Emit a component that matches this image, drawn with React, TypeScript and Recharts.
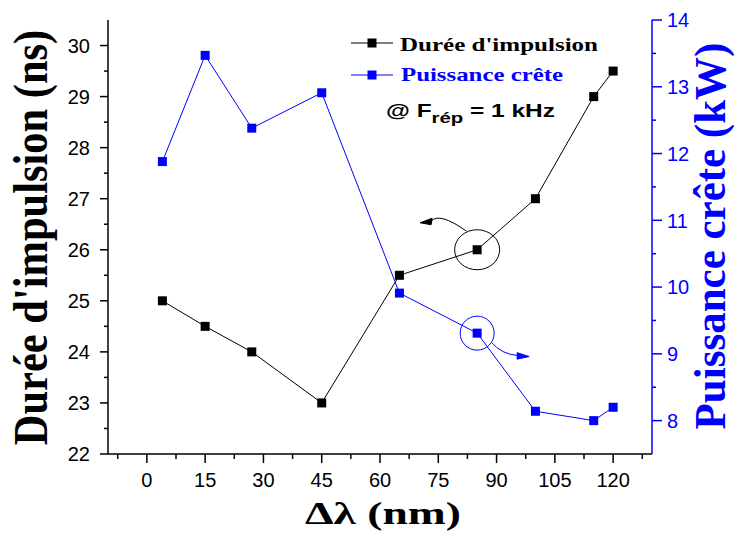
import React from 'react';
import { LineChart, Line, XAxis, YAxis, Legend, ReferenceDot } from 'recharts';

// Δλ (nm)
const deltaLambda = [4, 15, 27, 45, 65, 85, 100, 115, 120];
// Durée d'impulsion (ns)
const pulseDuration = [25, 24.5, 24, 23, 25.5, 26, 27, 29, 29.5];
// Puissance crête (kW)
const peakPower = [11.88, 13.47, 12.38, 12.91, 9.91, 9.31, 8.14, 8.0, 8.2];

const xMajor = [0, 15, 30, 45, 60, 75, 90, 105, 120];
const xMinor = [-7.5, 7.5, 22.5, 37.5, 52.5, 67.5, 82.5, 97.5, 112.5, 127.5];
const leftMajor = [22, 23, 24, 25, 26, 27, 28, 29, 30];
const leftMinor = [22.5, 23.5, 24.5, 25.5, 26.5, 27.5, 28.5, 29.5];
const rightMajor = [8, 9, 10, 11, 12, 13, 14];
const rightMinor = [8.5, 9.5, 10.5, 11.5, 12.5, 13.5];

const data = deltaLambda.map((x, i) => ({
  x,
  duree: pulseDuration[i],
  puissance: peakPower[i],
}));

const BLUE = '#0000ff';
const SANS = '"Liberation Sans", Arial, sans-serif';
const SERIF = '"Liberation Serif", "Times New Roman", serif';

const square = (color: string) => (p: any) => (
  <rect key={`${color}-${p.index}`} x={p.cx - 4.5} y={p.cy - 4.5} width={9} height={9} fill={color} />
);

const BottomTick = (p: any) => {
  const major = xMajor.includes(p.payload.value);
  return (
    <g>
      <line x1={p.x} x2={p.x} y1={p.y} y2={p.y + (major ? 9 : 5)} stroke="#000" strokeWidth={1.5} />
      {major && (
        <text x={p.x} y={p.y + 33} textAnchor="middle" fontSize={20} fontFamily={SANS} fill="#000">
          {p.payload.value}
        </text>
      )}
    </g>
  );
};

const TopTick = (p: any) => {
  const major = xMajor.includes(p.payload.value);
  return <line x1={p.x} x2={p.x} y1={p.y} y2={p.y + (major ? 8 : 4)} stroke={BLUE} strokeWidth={1.5} />;
};

const LeftTick = (p: any) => {
  const major = leftMajor.includes(p.payload.value);
  return (
    <g>
      <line x1={p.x} x2={p.x - (major ? 8 : 4)} y1={p.y} y2={p.y} stroke="#000" strokeWidth={1.5} />
      {major && (
        <text x={p.x - 18} y={p.y} dy="0.36em" textAnchor="end" fontSize={20} fontFamily={SANS} fill="#000">
          {p.payload.value}
        </text>
      )}
    </g>
  );
};

const RightTick = (p: any) => {
  const major = rightMajor.includes(p.payload.value);
  return (
    <g>
      <line x1={p.x} x2={p.x + (major ? 10 : 4)} y1={p.y} y2={p.y} stroke={BLUE} strokeWidth={1.5} />
      {major && (
        <text x={p.x + 15} y={p.y} dy="0.36em" textAnchor="start" fontSize={20} fontFamily={SANS} fill={BLUE}>
          {p.payload.value}
        </text>
      )}
    </g>
  );
};

// circled point, arrow towards the left axis
const BlackMark = (p: any) => (
  <g fill="none" stroke="#000" strokeWidth={1}>
    <ellipse cx={p.cx} cy={p.cy} rx={22.5} ry={20} />
    <path d={`M${p.cx - 10.6},${p.cy - 18.6} Q${p.cx - 38},${p.cy - 38} ${p.cx - 46},${p.cy - 28.5}`} />
    <path
      d={`M${p.cx - 57},${p.cy - 27} L${p.cx - 45},${p.cy - 31.5} L${p.cx - 46},${p.cy - 25} Z`}
      fill="#000"
    />
  </g>
);

// circled point, arrow towards the right axis
const BlueMark = (p: any) => (
  <g fill="none" stroke={BLUE} strokeWidth={1}>
    <circle cx={p.cx} cy={p.cy} r={17} />
    <path d={`M${p.cx + 14.7},${p.cy + 9.4} Q${p.cx + 24},${p.cy + 21} ${p.cx + 41},${p.cy + 22.4}`} />
    <path
      d={`M${p.cx + 52},${p.cy + 23.4} L${p.cx + 40},${p.cy + 19.5} L${p.cx + 40},${p.cy + 26} Z`}
      fill={BLUE}
    />
  </g>
);

const LegendBox = () => (
  <svg width={280} height={100}>
    <line x1={6} x2={48} y1={15} y2={15} stroke="#000" />
    <rect x={22.5} y={10.5} width={9} height={9} fill="#000" />
    <text
      x={55}
      y={23}
      fontSize={19.5}
      textLength={198}
      lengthAdjust="spacingAndGlyphs"
      fontWeight="bold"
      fontFamily={SERIF}
      fill="#000"
    >
      Durée d'impulsion
    </text>
    <line x1={6} x2={48} y1={47} y2={47} stroke={BLUE} />
    <rect x={22.5} y={42.5} width={9} height={9} fill={BLUE} />
    <text
      x={56}
      y={53}
      fontSize={19.5}
      textLength={162}
      lengthAdjust="spacingAndGlyphs"
      fontWeight="bold"
      fontFamily={SERIF}
      fill={BLUE}
    >
      Puissance crête
    </text>
    <text
      x={41}
      y={89}
      fontSize={18}
      textLength={169}
      lengthAdjust="spacingAndGlyphs"
      fontWeight="bold"
      fontFamily={SANS}
      fill="#000"
    >
      @ F
      <tspan dy={6} fontSize={15}>rép</tspan>
      <tspan dy={-6}> = 1 kHz</tspan>
    </text>
  </svg>
);

export default function App() {
  return (
    <div style={{ position: 'absolute', left: 0, top: 0, width: 734, height: 535, background: '#fff' }}>
      <LineChart width={734} height={535} data={data} margin={{ top: 20, right: 22, bottom: 41, left: 48 }}>
        <XAxis
          dataKey="x"
          type="number"
          domain={[-10, 130]}
          ticks={[...xMajor, ...xMinor].sort((a, b) => a - b)}
          interval={0}
          height={40}
          tickSize={0}
          tickMargin={0}
          tick={<BottomTick />}
          axisLine={{ stroke: '#000', strokeWidth: 1.5 }}
        />
        <XAxis
          xAxisId="top"
          orientation="top"
          type="number"
          domain={[-10, 130]}
          ticks={[...xMajor, ...xMinor].sort((a, b) => a - b)}
          interval={0}
          height={0}
          tickSize={0}
          tickMargin={0}
          tick={<TopTick />}
          axisLine={{ stroke: BLUE, strokeWidth: 1.5 }}
        />
        <YAxis
          yAxisId="left"
          type="number"
          domain={[22, 30.5]}
          ticks={[...leftMajor, ...leftMinor].sort((a, b) => a - b)}
          interval={0}
          width={60}
          tickSize={0}
          tickMargin={0}
          tick={<LeftTick />}
          axisLine={{ stroke: '#000', strokeWidth: 1.5 }}
        />
        <YAxis
          yAxisId="right"
          orientation="right"
          type="number"
          domain={[7.5, 14]}
          ticks={[...rightMajor, ...rightMinor].sort((a, b) => a - b)}
          interval={0}
          width={60}
          tickSize={0}
          tickMargin={0}
          tick={<RightTick />}
          axisLine={{ stroke: BLUE, strokeWidth: 1.5 }}
        />
        <Legend
          layout="vertical"
          align="center"
          verticalAlign="middle"
          wrapperStyle={{ left: 345, top: 28, width: 280, height: 100 }}
          content={() => <LegendBox />}
        />
        <Line
          yAxisId="left"
          dataKey="duree"
          name="Durée d'impulsion"
          stroke="#000"
          strokeWidth={1}
          dot={square('#000')}
          isAnimationActive={false}
        />
        <Line
          yAxisId="right"
          dataKey="puissance"
          name="Puissance crête"
          stroke={BLUE}
          strokeWidth={1}
          dot={square(BLUE)}
          isAnimationActive={false}
        />
        <ReferenceDot yAxisId="left" x={deltaLambda[5]} y={pulseDuration[5]} shape={<BlackMark />} />
        <ReferenceDot yAxisId="right" x={deltaLambda[5]} y={peakPower[5]} shape={<BlueMark />} />
      </LineChart>
      <svg
        width={734}
        height={535}
        style={{ position: 'absolute', left: 0, top: 0, pointerEvents: 'none' }}
      >
        <text
          transform="translate(47,237.5) rotate(-90) scale(1,1.12)"
          textAnchor="middle"
          fontSize={42.5}
          fontWeight="bold"
          fontFamily={SERIF}
          fill="#000"
        >
          Durée d'impulsion (ns)
        </text>
        <text
          transform="translate(725,236) rotate(-90) scale(1,1.05)"
          textAnchor="middle"
          fontSize={43}
          fontWeight="bold"
          fontFamily={SERIF}
          fill={BLUE}
        >
          Puissance crête (kW)
        </text>
        <text
          x={305}
          y={523.5}
          textLength={156}
          lengthAdjust="spacingAndGlyphs"
          fontSize={30.5}
          fontWeight="bold"
          fontFamily={SERIF}
          fill="#000"
        >
          Δλ (nm)
        </text>
      </svg>
    </div>
  );
}
